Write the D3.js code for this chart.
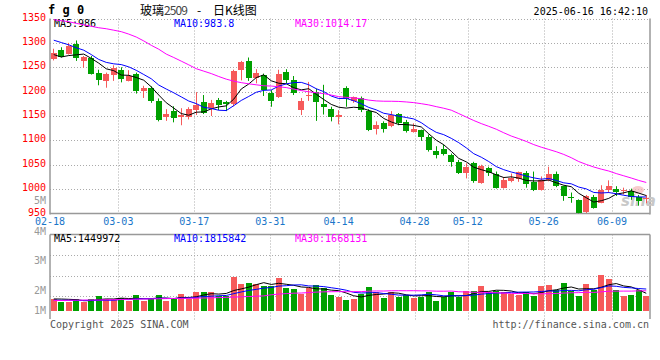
<!DOCTYPE html>
<html><head><meta charset="utf-8">
<script src="https://cdn.jsdelivr.net/npm/d3@7"></script>
<style>
body{margin:0;background:#fff}
svg{display:block}
text{font-family:"DejaVu Sans Mono","Liberation Mono",monospace;font-size:10px}
</style>
</head><body>
<svg id="c" width="660" height="360"></svg>
<script>
// ---------- data ----------
const dates = ["02-18","02-19","02-20","02-21","02-24","02-25","02-26","02-27","02-28",
"03-03","03-04","03-05","03-06","03-07","03-10","03-11","03-12","03-13","03-14",
"03-17","03-18","03-19","03-20","03-21","03-24","03-25","03-26","03-27","03-28",
"03-31","04-01","04-02","04-03","04-07","04-08","04-09","04-10","04-11",
"04-14","04-15","04-16","04-17","04-18","04-21","04-22","04-23","04-24","04-25",
"04-28","04-29","04-30","05-06","05-07","05-08","05-09",
"05-12","05-13","05-14","05-15","05-16","05-19","05-20","05-21","05-22","05-23",
"05-26","05-27","05-28","05-29","05-30","06-03","06-04","06-05","06-06",
"06-09","06-10","06-11","06-12","06-13","06-16"];
const labelDates = ["02-18","03-03","03-17","03-31","04-14","04-28","05-12","05-26","06-09"];

const open  = [1266,1285,1277,1297,1262,1270,1238,1221,1234,1245, 1222,1236,1201,1208,1181,1147,1160,1148,1147,1162,
               1179,1166,1182,1179,1174,1244,1262,1228,1234,1198, 1188,1240,1223,1162,1191,1200,1174,1165,1148,1207,
               1181,1186,1161,1123,1135,1130,1155,1138,1118,1121, 1107,1078,1082,1071,1056,1034,1054,1013,1044,1032,
               1002,1017,1020,1034,1015,998,1018,1032,1006,984, 978,954,984,972,999,1000,996,996,983,979];
const close = [1280,1272,1294,1268,1271,1236,1223,1236,1249,1226, 1233,1201,1208,1181,1142,1154,1146,1152,1164,1173,
               1157,1177,1172,1175,1242,1261,1228,1238,1203,1181, 1236,1223,1197,1181,1193,1179,1169,1147,1152,1184,
               1188,1162,1121,1131,1123,1152,1136,1120,1123,1107, 1081,1071,1073,1056,1034,1046,1016,1048,1034,1003,
               1018,1023,1035,1010,998,1019,1031,1007,985,983, 951,986,962,999,1007,995,999,983,975,982];
const high  = [1288,1291,1300,1305,1273,1273,1245,1239,1254,1250, 1244,1239,1212,1211,1186,1164,1170,1166,1168,1199,
               1193,1183,1187,1181,1245,1263,1270,1246,1237,1203, 1245,1246,1232,1187,1220,1206,1214,1169,1162,1211,
               1190,1190,1164,1139,1139,1160,1156,1142,1135,1122, 1112,1088,1091,1073,1060,1053,1056,1050,1046,1036,
               1025,1032,1036,1037,1036,1026,1046,1036,1007,993, 979,988,988,1008,1018,1006,1003,1001,988,988];
const low   = [1264,1270,1276,1263,1249,1235,1213,1208,1222,1219, 1221,1196,1187,1177,1139,1140,1137,1131,1143,1152,
               1154,1150,1162,1160,1170,1223,1222,1217,1191,1169, 1187,1217,1193,1152,1181,1140,1153,1139,1133,1169,
               1177,1158,1119,1112,1116,1127,1131,1116,1116,1099, 1077,1063,1069,1046,1031,1022,1013,1011,1027,1001,
               1001,1014,1015,1003,996,997,1016,1004,976,972, 950,951,960,971,992,986,989,978,966,971];
const volume = [1000000,725000,725000,1000000,725000,1000000,1200000,975000,975000,1075000,
                850000,1280000,850000,1000000,1280000,850000,1030000,1390000,960000,1580000,
                1580000,1580000,1220000,1220000,2810000,2250000,2320000,2240000,2060000,2060000,
                2740000,1910000,1810000,1370000,1870000,2140000,1870000,1310000,1170000,890000,
                975000,1370000,1980000,1530000,1080000,1530000,1170000,1310000,1080000,1170000,
                1530000,830000,1170000,1530000,1140000,1640000,1640000,2060000,1560000,1640000,
                1580000,1370000,1310000,1580000,1220000,2060000,2140000,1720000,2310000,1640000,
                1220000,2250000,1700000,2970000,2670000,1720000,1250000,1310000,1720000,1250000];

// moving-average values at the left edge (window reaches before the first shown day)
const ma5Head  = [1276,1271,1274,1275.5];
const ma10Head = [1305.5,1300.7,1296,1290,1285,1276,1266,1260,1257];
const ma30Head = [1347.5,1345.5,1343.4,1340,1337,1334,1331,1329,1326,1323,1318,1312,1304,1295,1287,1277,
                  1270,1262.5,1255,1247,1242,1237,1231,1225.6,1221.5,1218.4,1216,1214,1212];
const vma5Head  = [980000,970000,950000,920000];
const vma10Head = [880000,870000,870000,860000,860000,860000,870000,870000,870000];
const vma30Head = [850000,850000,867000,875000,883000,892000,892000,908000,917000,933000,950000,958000,975000,
                   983000,992000,1008000,1017000,1025000,1033000,1050000,1058000,1075000,1092000,1108000,
                   1133000,1158000,1183000,1208000,1233000];

const priceTicks = [950,1000,1050,1100,1150,1200,1250,1300,1350];
const volLabels = [1,2,3,4,5];
const maText  = ["MA5:986","MA10:983.8","MA30:1014.17"];
const vmaText = ["MA5:1449972","MA10:1815842","MA30:1668131"];

// ---------- drawing ----------
const RED="#F65A5A", GREEN="#00A000", C_MA=["#000000","#0000FF","#FF00FF"];
const svg = d3.select("#c");
const L=50, R=650, PT=18.5, PB=213.5, VT=234.5, VB=310.7, VEND=319;

const x  = d3.scaleBand().domain(dates).range([L,R]).paddingInner(0.2).paddingOuter(0.1);
const xg = d3.scalePoint().domain(dates).range([L,R]);
const bw = x.bandwidth();
const cx = d => x(d)+bw/2;
const y  = d3.scaleLinear().domain([950,1350]).range([PB,PT]);
const yv = d3.scaleLinear().domain([0,1e6]).range([VB,VB-12]);
const yvGrid = d3.scaleLinear().domain([0,4]).range([317,VT]);
const yvLab = d3.scaleLinear().domain(volLabels).range([310.7,290,260.5,231.5,200.7]);

function ma(arr,n,head){return arr.map((v,i)=> i<head.length ? head[i] : d3.mean(arr.slice(i-n+1,i+1)));}
const pMA=[ma(close,5,ma5Head),ma(close,10,ma10Head),ma(close,30,ma30Head)];
const vMA=[ma(volume,5,vma5Head),ma(volume,10,vma10Head),ma(volume,30,vma30Head)];

const defs=svg.append("defs");
defs.append("clipPath").attr("id","cp").append("rect").attr("x",L).attr("y",PT).attr("width",R-L).attr("height",PB-PT);
defs.append("clipPath").attr("id","cv").append("rect").attr("x",L).attr("y",VT).attr("width",R-L).attr("height",VEND-VT);

const dot={stroke:"#aaa","stroke-dasharray":"1,2","stroke-width":1};
function ap(sel,o){for(const k in o) sel.attr(k,o[k]); return sel;}

// header
svg.append("text").attr("x",48).attr("y",14).attr("font-weight","bold").style("font-size","12px").attr("fill","#000").text("f g 0");
const cjk="'Noto Sans CJK SC',sans-serif";
const tt=svg.append("text").attr("y",15).style("font-family",cjk).style("font-size","12px").attr("fill","#000");
tt.append("tspan").attr("x",140).text("玻璃");
tt.append("tspan").attr("fill","#444").attr("textLength",24).text("2509");
tt.append("tspan").attr("x",197).text("-");
tt.append("tspan").attr("x",213).text("日K线图");
svg.append("text").attr("x",648).attr("y",15).attr("text-anchor","end").attr("fill","#000").text("2025-06-16 16:42:10");

// price grid
const gP=svg.append("g");
priceTicks.filter(t=>t>950).forEach(t=>{
  ap(gP.append("line").attr("x1",L).attr("x2",R).attr("y1",Math.round(y(t))+0.5).attr("y2",Math.round(y(t))+0.5),dot);
});
labelDates.forEach(d=>{
  const xx=Math.round(xg(d))+0.5;
  if(xx>L+1) ap(gP.append("line").attr("x1",xx).attr("x2",xx).attr("y1",PT).attr("y2",PB),dot);
  if(xx>L+1) ap(gP.append("line").attr("x1",xx).attr("x2",xx).attr("y1",VT).attr("y2",VEND+1),dot);
});
// volume grid
[1,2,3].forEach(t=>{
  ap(gP.append("line").attr("x1",L).attr("x2",R).attr("y1",Math.round(yvGrid(t))+0.5).attr("y2",Math.round(yvGrid(t))+0.5),dot);
});
// frames
const fr={stroke:"#999","stroke-width":1.5,fill:"none"};
ap(svg.append("line").attr("x1",L).attr("x2",L).attr("y1",PT).attr("y2",PB+1),fr);
ap(svg.append("line").attr("x1",R).attr("x2",R).attr("y1",PT).attr("y2",PB+1),fr);
ap(svg.append("line").attr("x1",L).attr("x2",R).attr("y1",PB).attr("y2",PB),fr);
ap(svg.append("line").attr("x1",L).attr("x2",L).attr("y1",VT).attr("y2",VEND),fr);
ap(svg.append("line").attr("x1",R).attr("x2",R).attr("y1",VT).attr("y2",VEND),fr);
ap(svg.append("line").attr("x1",L).attr("x2",R).attr("y1",VT).attr("y2",VT),fr);

// price axis labels
priceTicks.forEach(t=>{
  svg.append("text").attr("x",46).attr("y",y(t)+2).attr("text-anchor","end").attr("fill","#FF0000").text(t);
});
// volume axis labels
volLabels.forEach(v=>{
  svg.append("text").attr("x",46).attr("y",yvLab(v)+3.6).attr("text-anchor","end").attr("fill","#999").text(v+"M");
});
// date labels
labelDates.forEach(d=>{
  svg.append("text").attr("x",xg(d)).attr("y",224.5).attr("text-anchor","middle").attr("fill","#1a76c9").text(d);
});

// MA legends
const lx=[54,174,295];
maText.forEach((t,i)=>svg.append("text").attr("x",lx[i]).attr("y",27).attr("fill",C_MA[i]).text(t));
vmaText.forEach((t,i)=>svg.append("text").attr("x",lx[i]).attr("y",241.5).attr("fill",C_MA[i]).text(t));

// watermark
svg.append("text").attr("x",621).attr("y",206).style("font-family","'DejaVu Sans',sans-serif").style("font-size","15px")
  .attr("font-style","italic").attr("font-weight","bold").attr("fill","#c8c8c8").text("sina");
svg.append("ellipse").attr("cx",638).attr("cy",190).attr("rx",6).attr("ry",4).attr("fill","#f3b6b6").attr("opacity",0.7);

// candles
const gc=svg.append("g").attr("clip-path","url(#cp)");
dates.forEach((d,i)=>{
  const up=close[i]>=open[i], col=up?RED:GREEN;
  const wx=Math.floor(cx(d))+0.5;
  gc.append("line").attr("x1",wx).attr("x2",wx).attr("y1",y(high[i])).attr("y2",y(low[i])).attr("stroke",col).attr("stroke-width",1);
  const top=y(Math.max(open[i],close[i])), bot=y(Math.min(open[i],close[i]));
  gc.append("rect").attr("x",Math.round(x(d))).attr("width",Math.round(bw)).attr("y",top).attr("height",Math.max(1,bot-top))
    .attr("fill",col).attr("shape-rendering","crispEdges");
});
// price MA lines
pMA.forEach((s,k)=>{
  gc.append("path").datum(s).attr("fill","none").attr("stroke",C_MA[k]).attr("stroke-width",1)
    .attr("d",d3.line().x((v,i)=>cx(dates[i])).y(v=>y(v)));
});

// volume bars
const gv=svg.append("g").attr("clip-path","url(#cv)");
dates.forEach((d,i)=>{
  const col=close[i]>=open[i]?RED:GREEN;
  gv.append("rect").attr("x",Math.round(x(d))).attr("width",Math.round(bw)).attr("y",yv(volume[i])).attr("height",VB-yv(volume[i]))
    .attr("fill",col).attr("shape-rendering","crispEdges");
});
vMA.forEach((s,k)=>{
  gv.append("path").datum(s).attr("fill","none").attr("stroke",C_MA[k]).attr("stroke-width",1)
    .attr("d",d3.line().x((v,i)=>cx(dates[i])).y(v=>yv(v)));
});

// footer
svg.append("text").attr("x",50).attr("y",327.5).attr("fill","#555").text("Copyright 2025 SINA.COM");
svg.append("text").attr("x",649).attr("y",327.5).attr("text-anchor","end").attr("fill","#555").text("http://finance.sina.com.cn");
</script>
</body></html>
